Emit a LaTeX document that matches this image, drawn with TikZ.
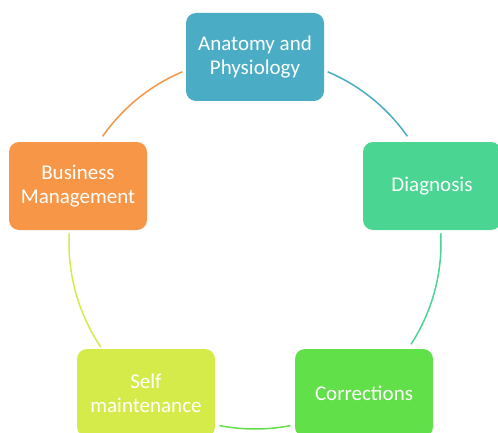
\documentclass[tikz,border=0pt]{standalone}
\usepackage{fontspec}
\setmainfont{Carlito}
\usepackage{xcolor}

\definecolor{anablue}{HTML}{4BACC6}
\definecolor{diagteal}{HTML}{4AD592}
\definecolor{corrgreen}{HTML}{62E049}
\definecolor{selflime}{HTML}{D4EB4A}
\definecolor{busorange}{HTML}{F79646}

\tikzset{
    topicbox/.style={rectangle, rounded corners=10pt, minimum width=138pt,
        minimum height=88pt, align=center, text=white,
        font=\fontsize{21}{24}\selectfont},
    ringarc/.style={line width=1.5pt}
}

\begin{document}
\begin{tikzpicture}
        \useasboundingbox (0,0) rectangle (498pt,432pt);
        \coordinate (c) at (255pt,189pt);

        \node[topicbox, fill=anablue] (ana) at (255pt,375pt) {Anatomy and\\Physiology};
        \node[topicbox, fill=diagteal] (diag) at (432pt,246pt) {Diagnosis};
        \node[topicbox, fill=corrgreen] (corr) at (364pt,39pt) {Corrections};
        \node[topicbox, fill=selflime] (self) at (146pt,39pt) {Self\\maintenance};
        \node[topicbox, fill=busorange] (bus) at (78pt,246pt) {Business\\Management};

        \draw[ringarc, anablue] (c) ++(67:186pt) arc[start angle=67, end angle=35, radius=186pt];
        \draw[ringarc, diagteal] (c) ++(3:186pt) arc[start angle=3, end angle=-33, radius=186pt];
        \draw[ringarc, corrgreen] (c) ++(-79:186pt) arc[start angle=-79, end angle=-101, radius=186pt];
        \draw[ringarc, selflime] (c) ++(214:186pt) arc[start angle=214, end angle=177, radius=186pt];
        \draw[ringarc, busorange] (c) ++(145:186pt) arc[start angle=145, end angle=113, radius=186pt];
    \end{tikzpicture}
\end{document}
